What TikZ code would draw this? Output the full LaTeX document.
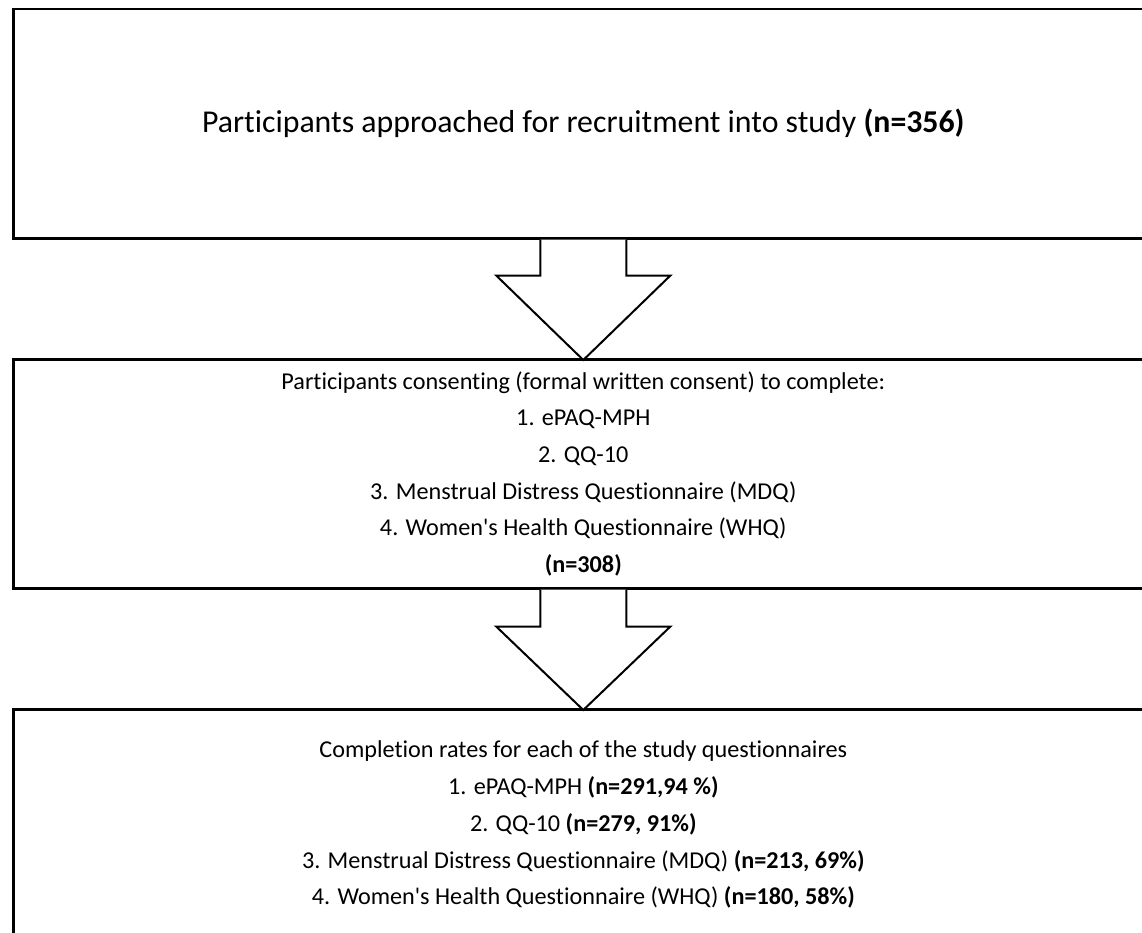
\documentclass[tikz,border=0pt]{standalone}
\usepackage{fontspec}
\setmainfont[Ligatures=TeX, RawFeature=-liga, RawFeature=-clig, RawFeature=-calt]{Carlito}
\usetikzlibrary{calc}
\tikzset{
  stagebox/.style={draw=black, line width=2.6pt, fill=white, rectangle, anchor=north west,
    minimum width=1140pt, inner sep=0pt, align=center},
  bigtext/.style={font=\fontsize{31.8}{38}\selectfont},
  smalltext/.style={font=\fontsize{24.2}{36.7}\selectfont},
  arrowfill/.style={fill=white},
  arrowline/.style={draw=black, line width=2pt, line join=miter}
}
\begin{document}
\begin{tikzpicture}[x=1pt,y=-1pt]
\useasboundingbox (0,0) rectangle (1142,932);
\node[stagebox, bigtext, minimum height=229.5pt] (b1) at (12,7.5)
  {Participants approached for recruitment into study \textbf{(n=356)}};
\node[stagebox, smalltext, minimum height=229pt] (b2) at (12,358)
  {Participants consenting (formal written consent) to complete:\\
   1. ePAQ-MPH\\
   2. QQ-10\\
   3. Menstrual Distress Questionnaire (MDQ)\\
   4. Women\textquotesingle s Health Questionnaire (WHQ)\\
   \textbf{(n=308)}};
\node[stagebox, smalltext, minimum height=231pt] (b3) at (12,708)
  {Completion rates for each of the study questionnaires\\
   1. ePAQ-MPH \textbf{(n=291,94 \%)}\\
   2. QQ-10 \textbf{(n=279, 91\%)}\\
   3. Menstrual Distress Questionnaire (MDQ) \textbf{(n=213, 69\%)}\\
   4. Women\textquotesingle s Health Questionnaire (WHQ) \textbf{(n=180, 58\%)}};
% arrow 1
\fill[arrowfill] ($(b1.south)+(-43,0)$) -- ($(b1.south)+(-43,36)$) -- ($(b1.south)+(-87,36)$)
  -- ($(b2.north)+(0,2)$) -- ($(b1.south)+(87,36)$) -- ($(b1.south)+(43,36)$) -- ($(b1.south)+(43,0)$) -- cycle;
\draw[arrowline] ($(b1.south)+(-43,0)$) -- ($(b1.south)+(-43,36)$) -- ($(b1.south)+(-87,36)$)
  -- ($(b2.north)+(0,2)$) -- ($(b1.south)+(87,36)$) -- ($(b1.south)+(43,36)$) -- ($(b1.south)+(43,0)$);
% arrow 2
\fill[arrowfill] ($(b2.south)+(-43,0)$) -- ($(b2.south)+(-43,37)$) -- ($(b2.south)+(-87,37)$)
  -- ($(b3.north)+(0,2)$) -- ($(b2.south)+(87,37)$) -- ($(b2.south)+(43,37)$) -- ($(b2.south)+(43,0)$) -- cycle;
\draw[arrowline] ($(b2.south)+(-43,0)$) -- ($(b2.south)+(-43,37)$) -- ($(b2.south)+(-87,37)$)
  -- ($(b3.north)+(0,2)$) -- ($(b2.south)+(87,37)$) -- ($(b2.south)+(43,37)$) -- ($(b2.south)+(43,0)$);
\end{tikzpicture}
\end{document}
